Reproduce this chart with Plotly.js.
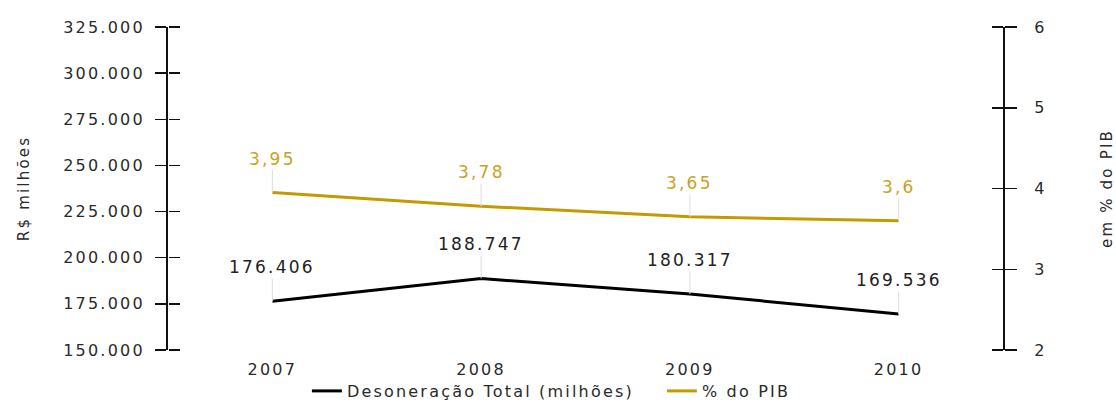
<!DOCTYPE html>
<html><head><meta charset="utf-8">
<script src="https://cdn.plot.ly/plotly-3.0.1.min.js"></script>
<style>html,body{margin:0;padding:0;background:#fff} svg text{letter-spacing:2.2px}</style>
</head><body><div id="chart" style="width:1116px;height:408px"></div>
<script>
const years = ['2007', '2008', '2009', '2010'];
const desoneracao = [176406, 188747, 180317, 169536];
const pctPIB = [3.95, 3.78, 3.65, 3.6];
const leftTicks = [150000, 175000, 200000, 225000, 250000, 275000, 300000, 325000];
const rightTicks = [2, 3, 4, 5, 6];

const BLACK = '#000000';
const GOLD = '#C49A00';
const GOLD_TXT = '#C9A227';
const FONT = 'DejaVu Sans, Arial, sans-serif';

function fmtThousands(v) {
  return String(Math.round(v)).replace(/\B(?=(\d{3})+(?!\d))/g, '.');
}
function fmtDecimal(v) {
  return String(v).replace('.', ',');
}

const traces = [
  {x: years, y: desoneracao, type: 'scatter', mode: 'lines', name: 'Desoneração Total (milhões)',
   line: {color: BLACK, width: 3}, yaxis: 'y', hoverinfo: 'skip'},
  {x: years, y: pctPIB, type: 'scatter', mode: 'lines', name: '% do PIB',
   line: {color: GOLD, width: 3}, yaxis: 'y2', hoverinfo: 'skip'},
  // helper traces so the overlay axes (inner half of the crossing ticks) are drawn
  {x: years, y: desoneracao, type: 'scatter', mode: 'none', yaxis: 'y3', showlegend: false, hoverinfo: 'skip'},
  {x: years, y: pctPIB, type: 'scatter', mode: 'none', yaxis: 'y4', showlegend: false, hoverinfo: 'skip'}
];

const annotations = [];
years.forEach((yr, i) => {
  annotations.push({x: i, y: desoneracao[i], xref: 'x', yref: 'y', text: fmtThousands(desoneracao[i]),
    showarrow: true, arrowhead: 0, arrowwidth: 1, arrowcolor: '#dddddd', ax: 0, ay: -34,
    font: {family: FONT, size: 17, color: '#222222'}});
  annotations.push({x: i, y: pctPIB[i], xref: 'x', yref: 'y2', text: fmtDecimal(pctPIB[i]),
    showarrow: true, arrowhead: 0, arrowwidth: 1, arrowcolor: '#dddddd', ax: 0, ay: -34,
    font: {family: FONT, size: 17, color: GOLD_TXT}});
});

const tickFont = {family: FONT, size: 16, color: '#2a2a2a'};
const layout = {
  width: 1116, height: 408,
  margin: {l: 168, r: 113, t: 27, b: 58},
  paper_bgcolor: '#ffffff', plot_bgcolor: '#ffffff',
  separators: ',.',
  font: {family: FONT, color: '#2a2a2a'},
  showlegend: true,
  legend: {orientation: 'h', xref: 'container', yref: 'container', x: 0.275, xanchor: 'left',
    y: 0.0, yanchor: 'bottom', bgcolor: 'rgba(0,0,0,0)',
    font: {family: FONT, size: 16, color: '#2a2a2a'}, itemwidth: 30,
    entrywidth: 310, entrywidthmode: 'pixels'},
  xaxis: {type: 'category', range: [-0.5, 3.5], showgrid: false, zeroline: false, showline: false,
    ticks: 'outside', ticklen: 5, tickcolor: 'rgba(0,0,0,0)', tickfont: tickFont, fixedrange: true},
  yaxis: {range: [150000, 325000], tickvals: leftTicks, tickformat: ',d', showgrid: false, zeroline: false,
    showline: true, linecolor: '#111111', linewidth: 2, ticks: 'outside', ticklen: 11, tickwidth: 1.5,
    tickcolor: '#111111', tickfont: tickFont, ticklabelstandoff: 7,
    title: {text: 'R$ milhões', font: {family: FONT, size: 15, color: '#2a2a2a'}, standoff: 30}},
  yaxis3: {range: [150000, 325000], tickvals: leftTicks, overlaying: 'y', anchor: 'free', position: 0,
    side: 'right', showgrid: false, zeroline: false, showline: false, ticks: 'outside', ticklen: 11,
    tickwidth: 1.5, tickcolor: '#111111', showticklabels: false},
  yaxis2: {range: [2, 6], tickvals: rightTicks, overlaying: 'y', side: 'right', showgrid: false, zeroline: false,
    showline: true, linecolor: '#111111', linewidth: 2, ticks: 'outside', ticklen: 12, tickwidth: 1.5,
    tickcolor: '#111111', tickfont: tickFont, ticklabelstandoff: 14,
    title: {text: 'em % do PIB', font: {family: FONT, size: 15, color: '#2a2a2a'}, standoff: 62}},
  yaxis4: {range: [2, 6], tickvals: rightTicks, overlaying: 'y', anchor: 'free', position: 1,
    side: 'left', showgrid: false, zeroline: false, showline: false, ticks: 'outside', ticklen: 11,
    tickwidth: 1.5, tickcolor: '#111111', showticklabels: false},
  annotations: annotations
};

Plotly.newPlot('chart', traces, layout, {staticPlot: true, displayModeBar: false});
</script></body></html>
